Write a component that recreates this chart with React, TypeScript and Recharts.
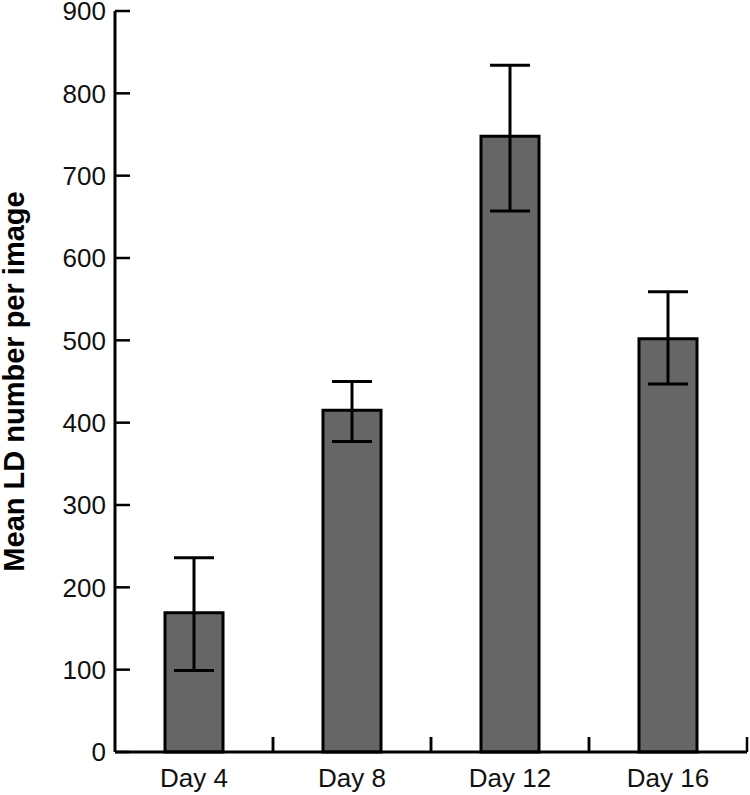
import React from "react";
import { BarChart, Bar, XAxis, YAxis, ErrorBar } from "recharts";

const days = ["Day 4", "Day 8", "Day 12", "Day 16"];
const means = [169, 415, 748, 502];
const lowerBounds = [99, 377, 657, 447];
const upperBounds = [236, 450, 834, 559];
const yTicks = [0, 100, 200, 300, 400, 500, 600, 700, 800, 900];

const data = days.map((day, i) => ({
  day,
  mean: means[i],
  err: [means[i] - lowerBounds[i], upperBounds[i] - means[i]],
}));

const font = "'Liberation Sans', Arial, sans-serif";

// inward tick on the y axis plus its label on the left
const YTick = (props: any) => {
  const { x, y, payload } = props;
  return (
    <g>
      <line x1={x} x2={x + 15} y1={y} y2={y} stroke="#000" strokeWidth={2.5} />
      <text x={x - 9} y={y} dy="0.36em" textAnchor="end" fontSize={26} fontFamily={font} fill="#111">
        {payload.value}
      </text>
    </g>
  );
};

// category label, with upward ticks at the band edges
const XTick = (props: any) => {
  const { x, y, payload, index, width, visibleTicksCount } = props;
  const band = width / visibleTicksCount;
  const left = x - band / 2;
  const right = x + band / 2;
  return (
    <g>
      {index > 0 && <line x1={left} x2={left} y1={y} y2={y - 15} stroke="#000" strokeWidth={2.5} />}
      <line x1={right} x2={right} y1={y} y2={y - 15} stroke="#000" strokeWidth={2.5} />
      <text x={x} y={y + 17} dy="0.71em" textAnchor="middle" fontSize={26} fontFamily={font} fill="#111">
        {payload.value}
      </text>
    </g>
  );
};

export default function App() {
  return (
    <div style={{ position: "absolute", left: 0, top: 0, background: "#fff" }}>
      <BarChart width={750} height={795} data={data} margin={{ top: 11, right: 3, left: 0, bottom: 0 }}>
        <XAxis
          dataKey="day"
          height={43}
          interval={0}
          axisLine={{ stroke: "#000", strokeWidth: 3 }}
          tickLine={false}
          tickSize={0}
          tickMargin={0}
          tick={<XTick />}
        />
        <YAxis
          width={115}
          domain={[0, 900]}
          ticks={yTicks}
          interval={0}
          tickSize={0}
          tickMargin={0}
          tickLine={false}
          tick={<YTick />}
          axisLine={{ stroke: "#000", strokeWidth: 3 }}
          label={{
            value: "Mean LD number per image",
            angle: -90,
            position: "insideLeft",
            offset: 0,
            dx: 14,
            style: { textAnchor: "middle", fontWeight: "bold", fontSize: 29, fill: "#000", fontFamily: font },
          }}
        />
        <Bar dataKey="mean" fill="#666666" stroke="#000" strokeWidth={3} barSize={58} isAnimationActive={false}>
          <ErrorBar dataKey="err" width={20} stroke="#000" strokeWidth={3} isAnimationActive={false} />
        </Bar>
      </BarChart>
    </div>
  );
}
